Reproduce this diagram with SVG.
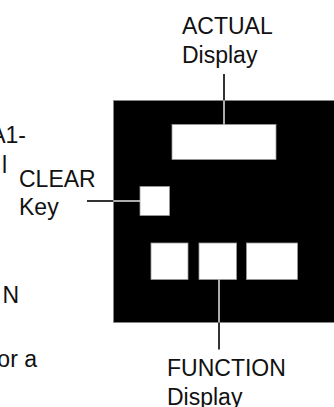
<svg xmlns="http://www.w3.org/2000/svg" width="334" height="407" viewBox="0 0 334 407">
<style>
text{font-family:"Liberation Sans",Arial,sans-serif;font-size:23px;fill:#111}
.key{fill:#fff;stroke:#9a9a9a;stroke-width:0.8}
.out{stroke:#333;stroke-width:2;fill:none}
.in{stroke:#e6e6e6;stroke-width:1.5;fill:none}
</style>
<rect width="334" height="407" fill="#fff"/>
<g id="left-text">
<text x="26" y="143" text-anchor="end">A1-</text>
<text x="7" y="173" text-anchor="end">l</text>
<text x="19" y="303" text-anchor="end">N</text>
<text x="37" y="367" text-anchor="end">or a</text>
</g>
<g id="panel">
<rect x="113.5" y="100.5" width="230" height="222" fill="#000" stroke="#888" stroke-width="0.6"/>
</g>
<g id="actual-display">
<rect class="key" x="172" y="124.5" width="104" height="35"/>
<text x="182" y="34">ACTUAL</text>
<text x="182" y="63">Display</text>
</g>
<g id="clear-key">
<rect class="key" x="140" y="186.5" width="29.5" height="29"/>
<text x="19" y="187">CLEAR</text>
<text x="19" y="215">Key</text>
</g>
<g id="function-display">
<rect class="key" x="151" y="243" width="37" height="36.5"/>
<rect class="key" x="199" y="243" width="37.5" height="36.5"/>
<rect class="key" x="246.5" y="243" width="51" height="36.5"/>
<text x="167" y="376">FUNCTION</text>
<text x="167" y="405">Display</text>
</g>
<g id="connectors">
<line class="out" x1="224" y1="74" x2="224" y2="100.5"/>
<line class="in" x1="224" y1="100.5" x2="224" y2="124.5"/>
<line class="out" x1="87" y1="201" x2="113.5" y2="201"/>
<line class="in" x1="113.5" y1="201" x2="140" y2="201"/>
<line class="in" x1="219" y1="279.5" x2="219" y2="322.5"/>
<line class="out" x1="219" y1="322.5" x2="219" y2="349.5"/>
</g>
</svg>
